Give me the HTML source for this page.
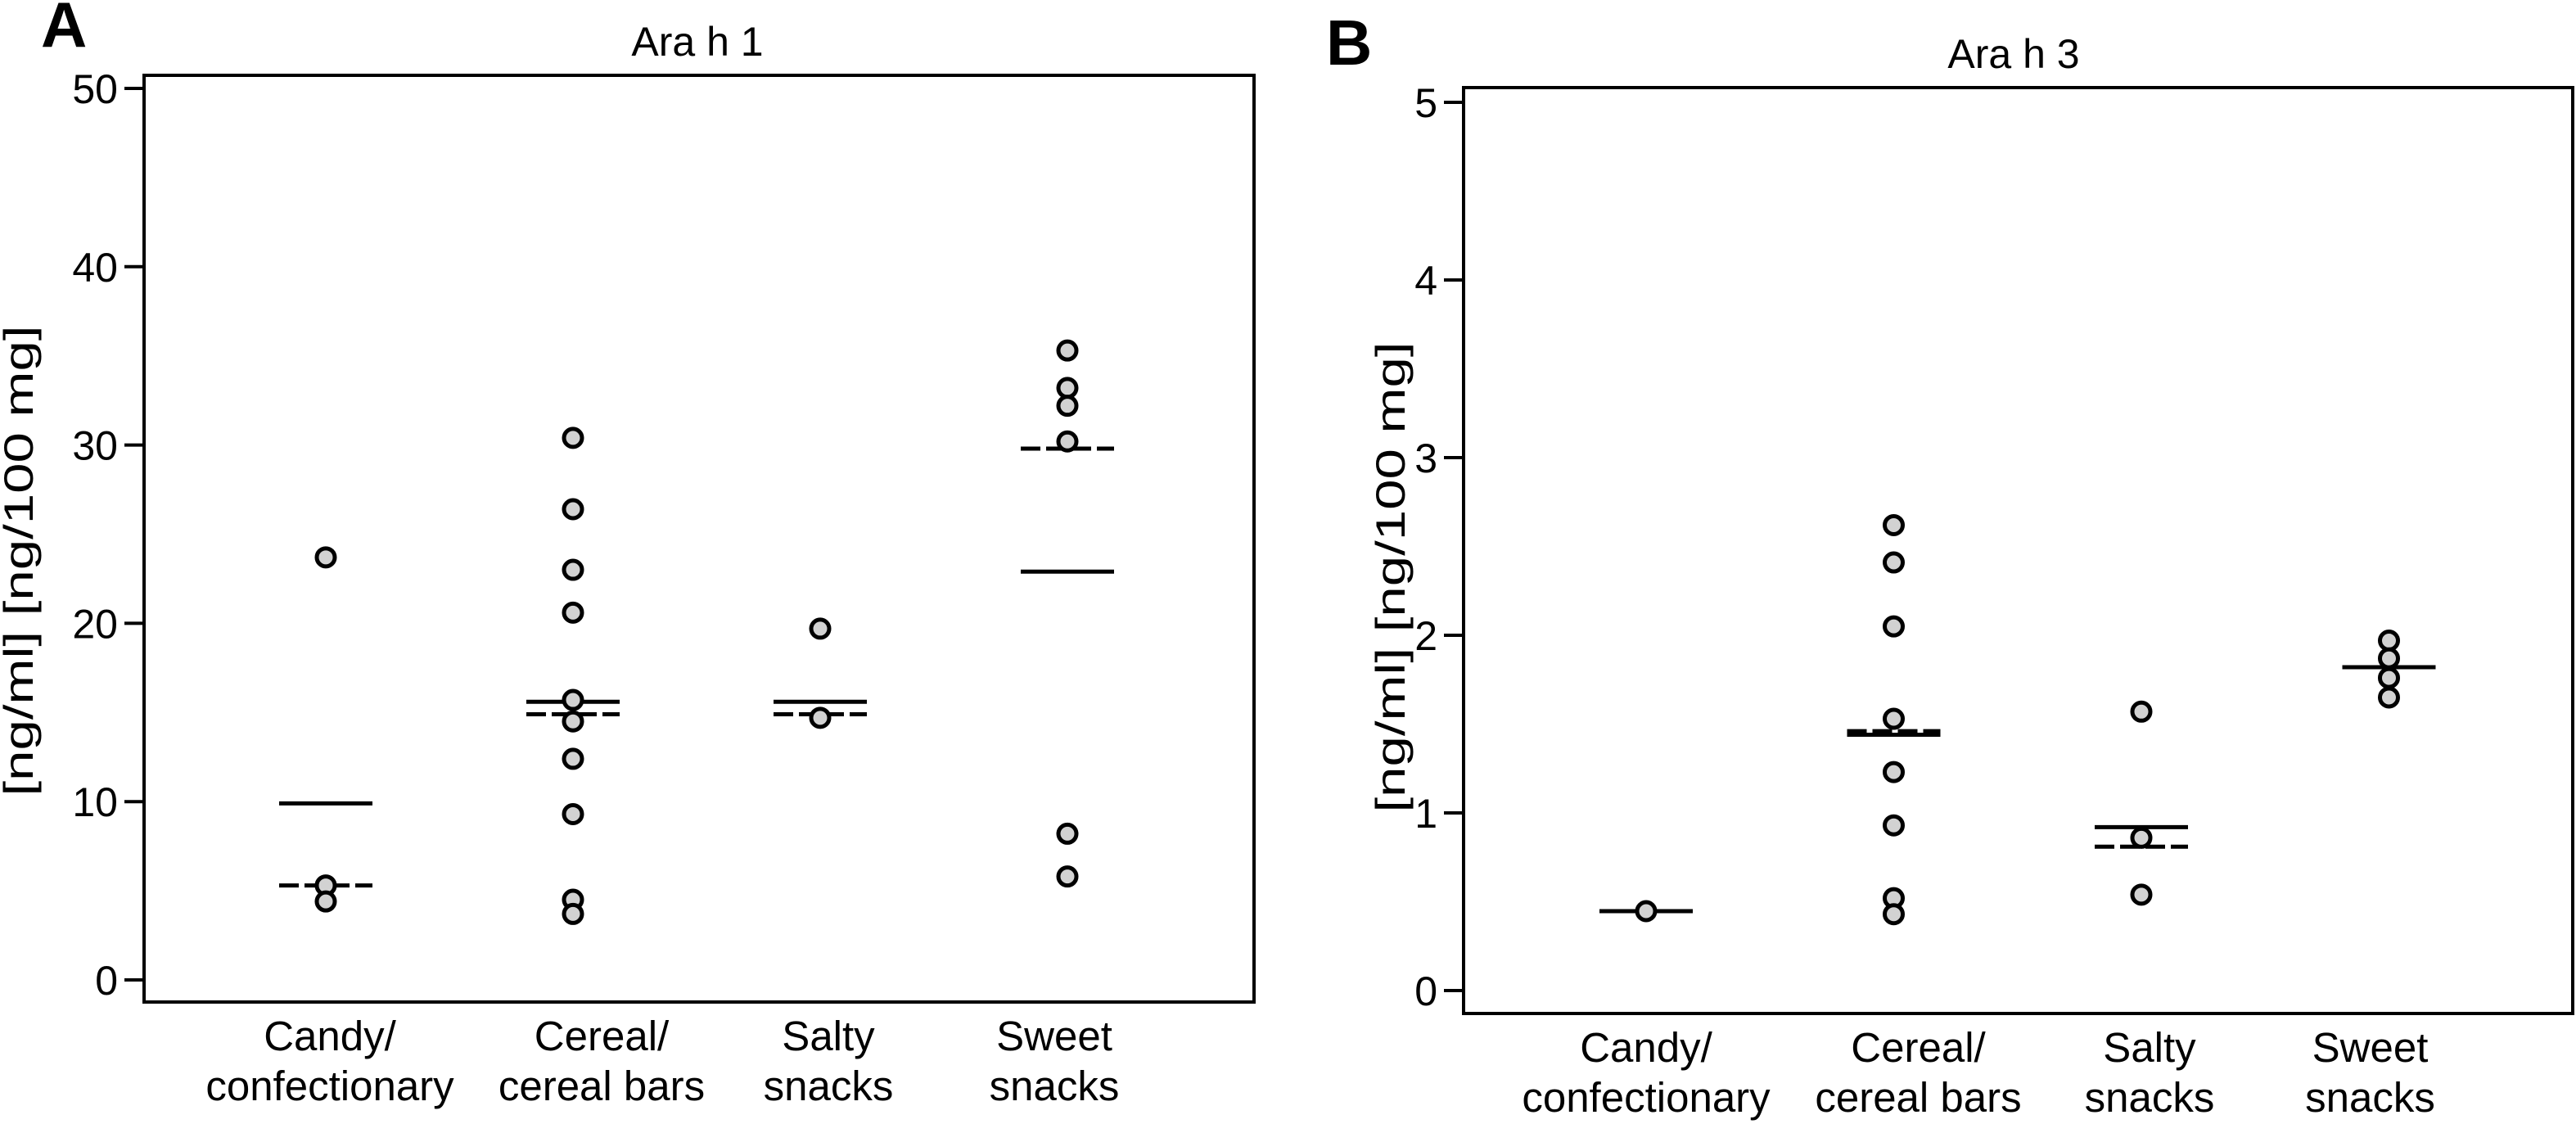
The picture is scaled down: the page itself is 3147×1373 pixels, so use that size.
<!DOCTYPE html>
<html><head><meta charset="utf-8">
<style>
html,body{margin:0;padding:0;background:#fff;}
svg{display:block;font-family:"Liberation Sans",sans-serif;}
</style></head>
<body>
<svg id="chart" width="3147" height="1373" viewBox="0 0 3147 1373" xmlns="http://www.w3.org/2000/svg">
<rect x="0" y="0" width="3147" height="1373" fill="#fff"/>
</svg>
<script>
const categories = ["Candy/|confectionary", "Cereal/|cereal bars", "Salty|snacks", "Sweet|snacks"];
const ara1Points = [
  [23.7, 5.3, 4.4],
  [30.4, 26.4, 23.0, 20.6, 15.7, 14.5, 12.4, 9.3, 4.5, 3.7],
  [19.7, 14.7],
  [35.3, 33.2, 32.2, 30.2, 8.2, 5.8]
];
const ara1Solid = [9.9, 15.6, 15.6, 22.9];
const ara1Dashed = [5.3, 14.9, 14.9, 29.8];
const ara1Ticks = [0, 10, 20, 30, 40, 50];
const ara3Points = [
  [0.447],
  [2.62, 2.41, 2.05, 1.53, 1.23, 0.93, 0.52, 0.43],
  [1.57, 0.86, 0.54],
  [1.97, 1.87, 1.76, 1.65]
];
const ara3Solid = [0.447, 1.44, 0.92, 1.82];
const ara3Dashed = [0.447, 1.46, 0.81, 1.82];
const ara3Ticks = [0, 1, 2, 3, 4, 5];

const NS = "http://www.w3.org/2000/svg";
const svg = document.getElementById("chart");
function mk(tag, attrs, parent) {
  const e = document.createElementNS(NS, tag);
  for (const k in attrs) e.setAttribute(k, attrs[k]);
  (parent || svg).appendChild(e);
  return e;
}

const panels = [
  {id:"a", letter:"A", title:"Ara h 1", letterX:50, letterY:57, titleX:852, titleY:68,
   left:176, right:1532, top:92, bottom:1224, y0:1197, yMax:108, vMax:50,
   ticks:ara1Ticks, pts:ara1Points, solid:ara1Solid, dashed:ara1Dashed,
   cat0:398, catStep:302, labelOff:[5,35,10,-16], labelY:1283, ytX:40, ytY:685},
  {id:"b", letter:"B", title:"Ara h 3", letterX:1620, letterY:79, titleX:2460, titleY:83,
   left:1788, right:3143, top:107, bottom:1238, y0:1210, yMax:125, vMax:5,
   ticks:ara3Ticks, pts:ara3Points, solid:ara3Solid, dashed:ara3Dashed,
   cat0:2011, catStep:302.5, labelOff:[0,30,10,-23], labelY:1297, ytX:1716, ytY:705}
];

panels.forEach(p => {
  const g = mk("g", {});
  
  
  const yS = v => p.y0 + (p.yMax - p.y0) * v / p.vMax;
  const xS = i => p.cat0 + i * p.catStep;

  const L = mk("text", {x:p.letterX, y:p.letterY, "font-size":78, "font-weight":"bold", fill:"#000"}, g);
  L.textContent = p.letter;
  
  

  const T = mk("text", {x:p.titleX, y:p.titleY, "font-size":50, "text-anchor":"middle", fill:"#000"}, g);
  T.textContent = p.title;
  
  

  const fr = mk("rect", {x:p.left, y:p.top, width:p.right - p.left, height:p.bottom - p.top, fill:"none", stroke:"#000", "stroke-width":4}, g);
  
  

  const yt = mk("text", {x:0, y:0, "font-size":50, "text-anchor":"middle", fill:"#000",
    transform:"translate(" + p.ytX + "," + p.ytY + ") rotate(-90)", textLength:575, lengthAdjust:"spacingAndGlyphs"}, g);
  yt.textContent = "[ng/ml] [ng/100 mg]";
  
  

  p.ticks.forEach(t => {
    const y = yS(t);
    const tl = mk("line", {x1:p.left - 24, x2:p.left, y1:y, y2:y, stroke:"#000", "stroke-width":4}, g);
    
    
    const tx = mk("text", {x:p.left - 32, y:y + 18, "font-size":50, "text-anchor":"end", fill:"#000"}, g);
    tx.textContent = t;
    
    
  });

  categories.forEach((c, i) => {
    const parts = c.split("|");
    const lx = xS(i) + p.labelOff[i];
    parts.forEach((s, k) => {
      const t = mk("text", {x:lx, y:p.labelY + k * 61, "font-size":51, "text-anchor":"middle", fill:"#000"}, g);
      t.textContent = s;
      
      
    });
    const cx = xS(i);
    const sl = mk("line", {x1:cx - 57, x2:cx + 57, y1:yS(p.solid[i]), y2:yS(p.solid[i]), stroke:"#000", "stroke-width":5}, g);
    
    
    const dl = mk("line", {x1:cx - 57, x2:cx + 57, y1:yS(p.dashed[i]), y2:yS(p.dashed[i]), stroke:"#000", "stroke-width":5, "stroke-dasharray":"24 7"}, g);
    
    
    p.pts[i].forEach(v => {
      const d = mk("circle", {cx:cx, cy:yS(v), r:11, fill:"#d2d2d2", stroke:"#000", "stroke-width":5}, g);
      
      
    });
  });
});
</script>
</body></html>
